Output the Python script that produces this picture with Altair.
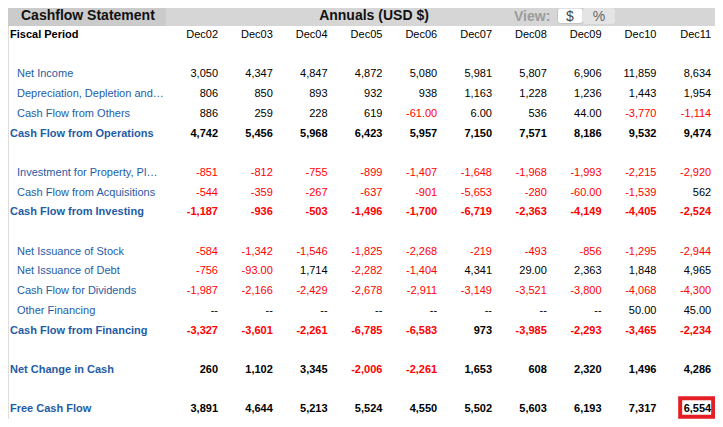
import altair as alt
import pandas as pd

FONT = "Liberation Sans"

periods = ["Dec02", "Dec03", "Dec04", "Dec05", "Dec06", "Dec07", "Dec08", "Dec09", "Dec10", "Dec11"]

# row index (0 = Fiscal Period header row), label, bold flag, values
row_idx = [2, 3, 4, 5, 7, 8, 9, 11, 12, 13, 14, 15, 17, 19]
row_labels = [
    "Net Income",
    "Depreciation, Depletion and\u2026",
    "Cash Flow from Others",
    "Cash Flow from Operations",
    "Investment for Property, Pl\u2026",
    "Cash Flow from Acquisitions",
    "Cash Flow from Investing",
    "Net Issuance of Stock",
    "Net Issuance of Debt",
    "Cash Flow for Dividends",
    "Other Financing",
    "Cash Flow from Financing",
    "Net Change in Cash",
    "Free Cash Flow",
]
row_bold = [False, False, False, True, False, False, True, False, False, False, False, True, True, True]

net_income = [3050, 4347, 4847, 4872, 5080, 5981, 5807, 6906, 11859, 8634]
depreciation = [806, 850, 893, 932, 938, 1163, 1228, 1236, 1443, 1954]
cf_others = [886, 259, 228, 619, -61, 6, 536, 44, -3770, -1114]
cf_operations = [4742, 5456, 5968, 6423, 5957, 7150, 7571, 8186, 9532, 9474]
invest_ppe = [-851, -812, -755, -899, -1407, -1648, -1968, -1993, -2215, -2920]
cf_acquisitions = [-544, -359, -267, -637, -901, -5653, -280, -60, -1539, 562]
cf_investing = [-1187, -936, -503, -1496, -1700, -6719, -2363, -4149, -4405, -2524]
issuance_stock = [-584, -1342, -1546, -1825, -2268, -219, -493, -856, -1295, -2944]
issuance_debt = [-756, -93, 1714, -2282, -1404, 4341, 29, 2363, 1848, 4965]
cf_dividends = [-1987, -2166, -2429, -2678, -2911, -3149, -3521, -3800, -4068, -4300]
other_financing = [None, None, None, None, None, None, None, None, 50, 45]
cf_financing = [-3327, -3601, -2261, -6785, -6583, 973, -3985, -2293, -3465, -2234]
net_change = [260, 1102, 3345, -2006, -2261, 1653, 608, 2320, 1496, 4286]
free_cash_flow = [3891, 4644, 5213, 5524, 4550, 5502, 5603, 6193, 7317, 6554]

series = [net_income, depreciation, cf_others, cf_operations, invest_ppe, cf_acquisitions,
          cf_investing, issuance_stock, issuance_debt, cf_dividends, other_financing,
          cf_financing, net_change, free_cash_flow]


def fmt(v):
    if v is None:
        return "--"
    if abs(v) < 100:
        return f"{v:.2f}"
    return f"{v:,.0f}"


cells = []
for r, lab, b, vals in zip(row_idx, row_labels, row_bold, series):
    for c, v in enumerate(vals):
        cells.append({
            "row": r, "col": c, "txt": fmt(v), "bold": b,
            "clr": "#ff0000" if (v is not None and v < 0) else "#000000",
        })
cells_df = pd.DataFrame(cells)

labels_df = pd.DataFrame({"row": row_idx, "label": row_labels, "bold": row_bold})
head_df = pd.DataFrame({"row": [0] * len(periods), "col": list(range(len(periods))), "txt": periods})
fp_df = pd.DataFrame({"row": [0], "label": ["Fiscal Period"]})
hl_df = pd.DataFrame({"row": [19], "col": [9]})

W, H = 707, 411
xs = alt.Scale(domain=[0, 9], range=[210, 703.2], nice=False, zero=False)
ys = alt.Scale(domain=[0, 19], range=[27, 401.3], nice=False, zero=False)
X = alt.X("col:Q", scale=xs, axis=None)
Y = alt.Y("row:Q", scale=ys, axis=None)

base_txt = dict(font=FONT, fontSize=11, baseline="middle")
BLUE = "#1f5ca6"

vals_normal = alt.Chart(cells_df).transform_filter("!datum.bold").mark_text(
    align="right", **base_txt).encode(x=X, y=Y, text="txt:N", color=alt.Color("clr:N", scale=None))
vals_bold = alt.Chart(cells_df).transform_filter("datum.bold").mark_text(
    align="right", fontWeight="bold", **base_txt).encode(x=X, y=Y, text="txt:N", color=alt.Color("clr:N", scale=None))

lab_sub = alt.Chart(labels_df).transform_filter("!datum.bold").mark_text(
    align="left", color=BLUE, **base_txt).encode(x=alt.value(9), y=Y, text="label:N")
lab_tot = alt.Chart(labels_df).transform_filter("datum.bold").mark_text(
    align="left", color=BLUE, fontWeight="bold", **base_txt).encode(x=alt.value(2), y=Y, text="label:N")

col_heads = alt.Chart(head_df).mark_text(align="right", color="#000000", **base_txt).encode(
    x=X, y=Y, text="txt:N")
fiscal = alt.Chart(fp_df).mark_text(align="left", color="#000000", fontWeight="bold", **base_txt).encode(
    x=alt.value(2), y=Y, text="label:N")

one = pd.DataFrame({"a": [0]})
bar_left = alt.Chart(one).mark_rect(color="#cbcbcb").encode(
    x=alt.value(0), x2=alt.value(158), y=alt.value(0), y2=alt.value(18))
bar_right = alt.Chart(one).mark_rect(color="#d6d6d6").encode(
    x=alt.value(158), x2=alt.value(W), y=alt.value(0), y2=alt.value(18))
btn_d = alt.Chart(one).mark_rect(color="#ffffff", stroke="#c4c4c4", strokeWidth=1, cornerRadius=3).encode(
    x=alt.value(549.5), x2=alt.value(575), y=alt.value(0), y2=alt.value(15.5))
btn_p = alt.Chart(one).mark_rect(color="#e4e4e4", cornerRadius=3).encode(
    x=alt.value(575), x2=alt.value(607), y=alt.value(0), y2=alt.value(16))

title_l = alt.Chart(one).mark_text(text="Cashflow Statement", font=FONT, fontSize=14, fontWeight="bold",
                                   align="left", baseline="middle", color="#111111").encode(
    x=alt.value(13), y=alt.value(8))
title_c = alt.Chart(one).mark_text(text="Annuals (USD $)", font=FONT, fontSize=14, fontWeight="bold",
                                   align="center", baseline="middle", color="#111111").encode(
    x=alt.value(366), y=alt.value(8))
view_t = alt.Chart(one).mark_text(text="View:", font=FONT, fontSize=14, fontWeight="bold",
                                  align="left", baseline="middle", color="#9c9c9c").encode(
    x=alt.value(506), y=alt.value(8.5))
dollar_t = alt.Chart(one).mark_text(text="$", font=FONT, fontSize=14, align="center", baseline="middle",
                                    color="#444444").encode(x=alt.value(562), y=alt.value(8.5))
pct_t = alt.Chart(one).mark_text(text="%", font=FONT, fontSize=14, align="center", baseline="middle",
                                 color="#666666").encode(x=alt.value(591), y=alt.value(8.5))

hl_box = alt.Chart(hl_df).transform_calculate(
    x0="datum.col - 0.566", x1="datum.col + 0.036", y0="datum.row - 0.56", y1="datum.row + 0.38"
).mark_rect(fill="transparent", stroke="#e31e24", strokeWidth=4).encode(
    x=alt.X("x0:Q", scale=xs, axis=None), x2="x1:Q",
    y=alt.Y("y0:Q", scale=ys, axis=None), y2="y1:Q")

chart = alt.layer(
    bar_left, bar_right, btn_d, btn_p, title_l, title_c, view_t, dollar_t, pct_t,
    col_heads, fiscal, lab_sub, lab_tot, vals_normal, vals_bold, hl_box,
).properties(
    width=W, height=H, padding=0, autosize=alt.AutoSizeParams(type="none")
).configure_view(stroke=None).configure(background="#ffffff")

chart.save("out.html", embed_options={"renderer": "svg", "actions": False})
